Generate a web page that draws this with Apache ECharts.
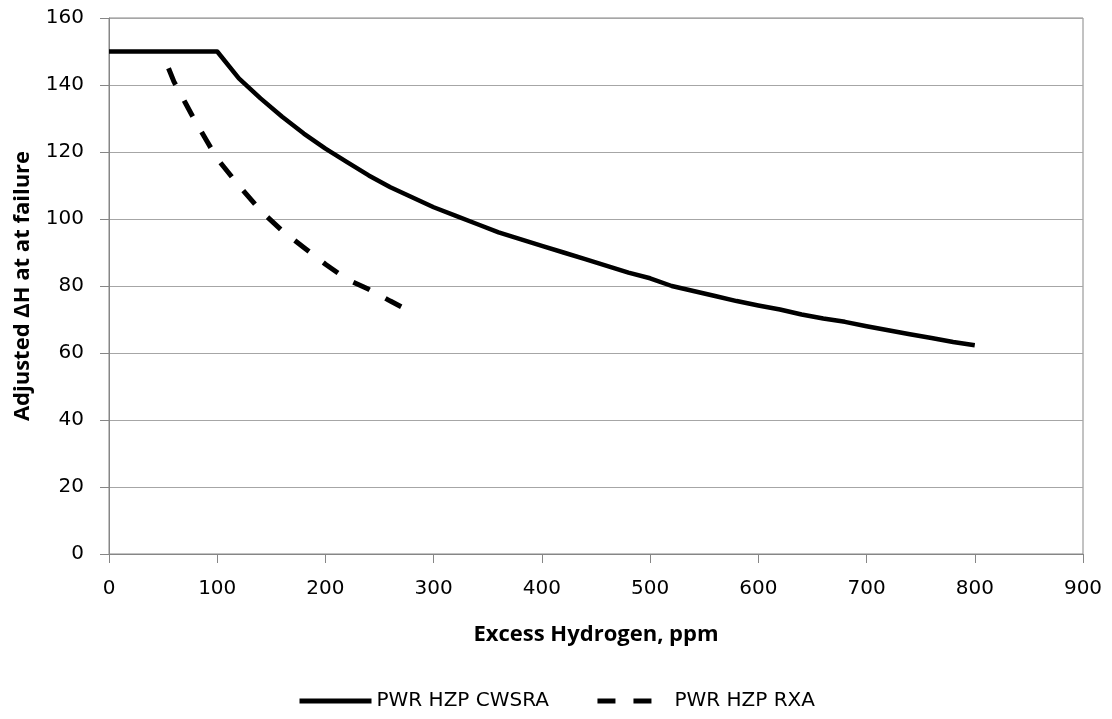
<!DOCTYPE html>
<html>
<head>
<meta charset="utf-8">
<script src="https://cdn.jsdelivr.net/npm/echarts@6/dist/echarts.min.js"></script>
<style>
  html, body { margin: 0; padding: 0; background: #fff; }
  #chart { width: 1112px; height: 719px; }
</style>
</head>
<body>
<div id="chart"></div>
<script>
// Excess hydrogen (ppm) and adjusted ΔH at failure for each alloy condition
const cwsraHydrogen = [0, 100, 120, 140, 160, 180, 200, 220, 240, 260, 280, 300, 320, 340, 360, 380, 400, 420, 440, 460, 480, 500, 520, 540, 560, 580, 600, 620, 640, 660, 680, 700, 720, 740, 760, 780, 800];
const cwsraDeltaH   = [150, 150, 142, 136, 130.5, 125.5, 121, 117, 113, 109.5, 106.5, 103.5, 101, 98.5, 96, 94, 92, 90, 88, 86, 84, 82.3, 80, 78.5, 77, 75.5, 74.2, 73, 71.5, 70.3, 69.3, 68, 66.8, 65.6, 64.5, 63.3, 62.3];

const rxaHydrogen = [55, 60, 70, 80, 90, 100, 120, 140, 160, 180, 200, 220, 240, 260, 270];
const rxaDeltaH   = [145, 141, 135, 129, 123.5, 118, 110, 102.5, 96.5, 91.5, 86.5, 82, 79, 75.5, 73.8];

const seriesNames = ['PWR HZP CWSRA', 'PWR HZP RXA'];
const xTitle = 'Excess Hydrogen, ppm';
const yTitle = 'Adjusted \u0394H at at failure';

const pairs = (xs, ys) => xs.map((x, i) => [x, ys[i]]);

const titleFont = "'Open Sans', Lato, sans-serif";
const labelFont = "'DejaVu Sans', Verdana, sans-serif";

const chart = echarts.init(document.getElementById('chart'), null, { renderer: 'canvas' });
chart.setOption({
  animation: false,
  backgroundColor: '#ffffff',
  grid: {
    left: 109, right: 29, top: 18, bottom: 165,
    outerBoundsMode: 'none', containLabel: false,
    show: true, borderColor: '#868686', borderWidth: 1, backgroundColor: 'transparent'
  },
  xAxis: {
    type: 'value', min: 0, max: 900, interval: 100,
    name: xTitle, nameLocation: 'middle', nameGap: 70,
    nameTextStyle: { fontFamily: titleFont, fontWeight: 'bold', fontSize: 22, color: '#000' },
    axisLine: { show: true, lineStyle: { color: '#868686', width: 1 } },
    axisTick: { show: true, inside: false, length: 9, lineStyle: { color: '#868686' } },
    axisLabel: { fontFamily: labelFont, fontSize: 20, color: '#000', margin: 25 },
    splitLine: { show: false }
  },
  yAxis: {
    type: 'value', min: 0, max: 160, interval: 20,
    name: yTitle, nameLocation: 'middle', nameGap: 75, nameRotate: 90,
    nameTextStyle: { fontFamily: titleFont, fontWeight: 'bold', fontSize: 22, color: '#000' },
    axisLine: { show: true, lineStyle: { color: '#868686', width: 1 } },
    axisTick: { show: true, inside: false, length: 9, lineStyle: { color: '#868686' } },
    axisLabel: { fontFamily: labelFont, fontSize: 20, color: '#000', margin: 25 },
    splitLine: { show: true, lineStyle: { color: '#a6a6a6', width: 1 } }
  },
  legend: {
    bottom: 3, left: 'center',
    itemWidth: 72, itemHeight: 14, itemGap: 46,
    textStyle: { fontFamily: labelFont, fontSize: 20, color: '#000' },
    itemStyle: { opacity: 0 },
    lineStyle: { width: 5 },
    data: seriesNames.map(n => ({ name: n }))
  },
  series: [
    {
      name: seriesNames[0], type: 'line', symbol: 'none', smooth: false,
      data: pairs(cwsraHydrogen, cwsraDeltaH),
      lineStyle: { color: '#000', width: 4.5, cap: 'butt', join: 'round' },
      itemStyle: { color: '#000' }
    },
    {
      name: seriesNames[1], type: 'line', symbol: 'none', smooth: false,
      data: pairs(rxaHydrogen, rxaDeltaH),
      lineStyle: { color: '#000', width: 5, type: [18, 18], cap: 'butt' },
      itemStyle: { color: '#000' }
    }
  ]
});
</script>
</body>
</html>
